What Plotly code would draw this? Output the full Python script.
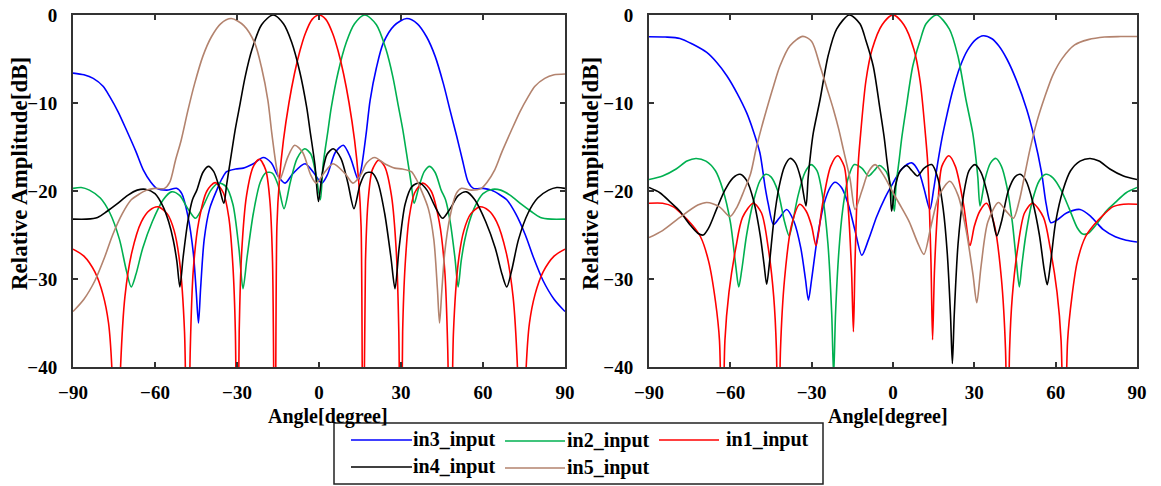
import plotly.graph_objects as go
from plotly.subplots import make_subplots

# ---- left panel: angle [deg] / relative amplitude [dB] ----
L_IN1_DEG = [-90, -86, -82, -79, -77, -75.8, -74.2, -72.6, -71, -68.5, -65, -62, -58.8, -55.5, -53, -51, -49.2,
             -48.1, -47.1, -46, -44, -41, -38, -35, -33, -31.5, -30.6, -29.9, -29.2, -28.3, -26.5, -24, -21.8,
             -19.5, -18, -17, -16.1, -15.4, -14.5, -13, -11, -9, -7, -5, -2.5, 0, 2.5, 5, 7, 9, 11, 13, 14.5,
             15.4, 16.1, 17, 18, 19.5, 21.8, 24, 26.5, 28.3, 29.2, 29.9, 30.6, 31.5, 33, 35, 38, 41, 44, 46,
             47.1, 48.1, 49.2, 51, 53, 55.5, 58.8, 62, 65, 68.5, 71, 72.6, 74.2, 75.8, 77, 79, 82, 86, 90]
L_IN1_DB = [-26.6, -27.4, -29.2, -31.8, -35, -40, -60, -40, -32, -27, -23.5, -22.2, -21.8, -22.6, -24.5, -28, -36,
            -60, -38, -29, -23.5, -20, -19.05, -20.2, -23, -28.5, -36, -60, -36, -27, -20.5, -17.2, -16.4,
            -17.6, -21, -28, -60, -24, -18.8, -14.2, -10, -6.7, -4.1, -2.1, -0.5, 0, -0.5, -2.1, -4.1, -6.7, -10,
            -14.2, -18.8, -24, -60, -28, -21, -17.6, -16.5, -17.2, -20.5, -27, -36, -60, -36, -28.5, -23,
            -20.2, -19.1, -20, -23.5, -29, -38, -60, -36, -28, -24.5, -22.6, -21.8, -22.2, -23.5, -27, -32,
            -40, -60, -40, -35, -31.8, -29.2, -27.4, -26.6]

L_IN2_DEG = [-90, -87, -84, -80, -76.5, -73, -70.5, -68.7, -67, -64.5, -61, -57, -54, -51, -48, -45.2, -42.5,
             -39.5, -36.7, -34, -31.5, -29.3, -27.8, -26.3, -24, -21.5, -19.3, -17, -15, -12.8, -10.5, -8, -5.2,
             -3, -1.2, 0.5, 1.5, 3.3, 4.5, 7, 10, 13, 16.8, 21, 24.5, 27, 29, 30.7, 32.6, 33.8, 34.8, 36.5,
             38.5, 40.5, 42.5, 44.7, 46.3, 48, 49.7, 50.9, 52, 53.3, 55, 57, 60, 63.5, 66.5, 70, 74, 77.5, 81,
             85, 90]
L_IN2_DB = [-19.7, -19.6, -19.9, -20.8, -22.5, -25.5, -29, -30.9, -29.5, -26.5, -23.5, -21, -20.1, -20.5, -22,
            -23.1, -21.8, -19.9, -19.1, -19.5, -21.5, -26.5, -31.1, -27.5, -22.5, -19, -17.9, -18, -19.3, -22,
            -19, -16.3, -15.2, -15.8, -18, -21.0, -17, -13.1, -10.5, -6.5, -3.1, -1.0, 0, -1.1, -3.9, -7.0,
            -10.3, -13.1, -16.9, -19.3, -21.4, -19.6, -17.8, -17.2, -17.9, -19.9, -21, -23.5, -27.5, -30.9,
            -28, -25.6, -23.5, -21.8, -20.3, -19.8, -19.9, -20.5, -21.5, -22.3, -23.0, -23.2, -23.2]

L_IN3_DEG = [-90, -86, -82.6, -79, -76.5, -73.5, -70.4, -67, -64.3, -61.5, -59.4, -55.7, -52.1, -50.2, -48, -46,
             -44.9, -44.1, -43.3, -42, -40, -37.4, -35.5, -33.8, -30.5, -27.7, -24, -20.4, -17.5, -15, -12.4,
             -9.5, -5.1, -2, 1, 3, 6, 8.9, 11.5, 14.4, 15.5, 16.5, 17.4, 18.7, 21, 23.5, 27.5, 32.1, 36, 39.4,
             42.5, 45.5, 48, 50.4, 52.5, 54.6, 56.5, 60.1, 63, 66, 68.7, 72, 75.5, 78.4, 82, 86, 90]
L_IN3_DB = [-6.6, -6.8, -7.2, -8.1, -9.3, -11.0, -13.1, -15.5, -17.6, -19.0, -19.7, -19.9, -19.7, -20.3, -22.8,
            -27, -31.5, -35, -31, -25.5, -22, -19.9, -18.6, -17.8, -17.5, -17.4, -16.9, -16.2, -16.8, -18.3,
            -19.1, -18, -16.9, -17.9, -19.1, -18.2, -15.6, -14.8, -16.2, -18.75, -17.4, -15.3, -13.1, -9.7, -6,
            -3.2, -1.2, -0.4, -1.0, -2.5, -4.7, -7.8, -10.9, -13.8, -16.5, -19.0, -19.7, -19.7, -19.9, -20.4,
            -21.0, -22.6, -25, -27.5, -30.2, -32.3, -33.7]

L_IN4_DEG = [-90, -85, -81, -77.5, -74, -70, -66.5, -63.5, -60, -57, -55, -53.3, -52, -50.9, -49.7, -48, -46.3,
             -44.7, -42.5, -40.5, -38.5, -36.5, -34.8, -33.8, -32.6, -30.7, -29, -27, -24.5, -21, -16.8, -13,
             -10, -7, -4.5, -3.3, -1.5, -0.2, 1.2, 3, 5.2, 8, 10.5, 12.8, 15, 17, 19.3, 21.5, 24, 26.3, 27.8,
             29.3, 31.5, 34, 36.7, 39.5, 42.5, 45.2, 48, 51, 54, 57, 61, 64.5, 67, 68.7, 70.5, 73, 76.5, 80, 84,
             87, 90]
L_IN4_DB = [-23.2, -23.2, -23.0, -22.3, -21.5, -20.5, -19.9, -19.8, -20.3, -21.8, -23.5, -25.6, -28, -30.9,
            -27.5, -23.5, -21, -19.9, -17.9, -17.2, -17.8, -19.6, -21.4, -19.3, -16.9, -13.1, -10.3, -7.0, -3.9,
            -1.1, 0, -1.0, -3.1, -6.5, -10.5, -13.1, -17, -21.2, -18, -15.8, -15.2, -16.3, -19, -22, -19.3, -18,
            -17.9, -19, -22.5, -27.5, -31.1, -26.5, -21.5, -19.5, -19.1, -19.9, -21.8, -23.1, -22, -20.5, -20.1,
            -21, -23.5, -26.5, -29.5, -30.9, -29, -25.5, -22.5, -20.8, -19.9, -19.6, -19.7]

L_IN5_DEG = [-90, -86, -82, -78.4, -75.5, -72, -68.7, -66, -63, -60.1, -56.5, -54.6, -52.5, -50.4, -48, -45.5,
             -42.5, -39.4, -36, -32.1, -27.5, -23.5, -21, -18.7, -17.4, -16.5, -15.5, -14.4, -11.5, -8.9, -6, -3,
             -1, 2, 5.1, 9.5, 12.4, 15, 17.5, 20.4, 24, 27.7, 30.5, 33.8, 35.5, 37.4, 40, 42, 43.3, 44.1, 44.9,
             46, 48, 50.2, 52.1, 55.7, 59.4, 61.5, 64.3, 67, 70.4, 73.5, 76.5, 79, 82.6, 86, 90]
L_IN5_DB = [-33.7, -32.3, -30.2, -27.5, -25, -22.6, -21.0, -20.4, -19.9, -19.7, -19.7, -19.0, -16.5, -14.2,
            -10.9, -7.8, -4.7, -2.5, -1.0, -0.4, -1.2, -3.2, -6, -9.7, -13.1, -15.3, -17.4, -18.75, -16.2, -14.8,
            -15.6, -18.2, -19.1, -17.9, -16.9, -18, -19.1, -18.3, -16.8, -16.2, -16.9, -17.4, -17.5, -17.8,
            -18.6, -19.9, -22, -25.5, -31, -35, -31.5, -27, -22.8, -20.3, -19.7, -19.9, -19.7, -19.0, -17.6,
            -15.5, -13.1, -11.0, -9.3, -8.1, -7.2, -6.8, -6.7]

# ---- right panel ----
R_IN1_DEG = [-90, -85, -81, -78, -74, -71, -68, -65.5, -64, -63, -62, -60.5, -58, -55.5, -51.5, -48.5, -46, -44,
             -43, -42.3, -41.5, -40, -37.5, -34.4, -32, -30, -28.4, -26, -23, -20.4, -18, -16.5, -15.3, -14.6,
             -14, -12.8, -12, -10, -7.7, -4, 0, 4, 7.7, 10, 12, 12.8, 14, 14.6, 15.3, 16.5, 18, 20.6, 23, 26,
             28.4, 30, 32, 34.5, 37.5, 40, 41.5, 42.3, 43, 44, 46, 48.5, 51.5, 55.5, 58, 60.5, 62, 63.2, 64.4,
             66, 68, 71, 74, 78, 81, 85, 90]
R_IN1_DB = [-21.4, -21.4, -21.8, -22.6, -23.9, -25.2, -28, -32.5, -37, -55, -37, -31.5, -26.5, -23, -21.4, -22.5,
            -26.5, -32, -38, -55, -38, -30, -24, -21.5, -22.3, -24, -26.2, -21.5, -17.2, -16.0, -17.2, -22, -29,
            -36, -28, -16.8, -13.7, -7.5, -3.9, -1.1, 0, -1.1, -3.9, -7.5, -13.7, -16.8, -28, -36.9, -29, -22,
            -17.2, -16.0, -17.2, -21.5, -26.2, -24, -22.3, -21.4, -24, -30, -38, -55, -38, -32, -26.5, -22.5,
            -21.4, -23, -26.5, -31.5, -37, -55, -37, -32, -28, -25.2, -23.9, -22.6, -21.8, -21.5, -21.5]

R_IN2_DEG = [-90, -85, -80, -76, -72.7, -69, -65.5, -62.8, -60, -58, -56.9, -55.8, -54, -51.5, -49, -46.9, -45,
             -42.5, -40, -38.3, -37, -35, -32.5, -30.2, -28, -26, -24, -22.6, -21.9, -21.2, -20, -18.5, -16.5,
             -14.3, -11.5, -9, -7, -5, -2.5, -0.8, 0.5, 1.1, 2.3, 3.3, 4.8, 7.3, 10, 12.2, 16.1, 20.8, 23.9,
             26.9, 29.4, 30.3, 31.3, 32.1, 34, 36, 38, 40, 42, 44, 45.5, 46.6, 47.5, 49, 51.5, 54, 56.4, 59, 62,
             65, 68, 70, 72, 75, 78.6, 82, 86, 90]
R_IN2_DB = [-18.7, -18.3, -17.5, -16.6, -16.3, -16.6, -17.7, -19.8, -23.5, -28.5, -30.9, -29, -25, -21.2, -18.8,
            -18.1, -18.4, -20, -23.5, -25.1, -23.5, -20.5, -17.9, -17.0, -17.7, -20.5, -26, -34, -41, -34, -27,
            -22, -18.5, -17.0, -17.4, -18.3, -17.7, -17.1, -17.8, -19.5, -22.3, -19.4, -16.4, -13.8, -10.7,
            -5.8, -2.9, -1.0, 0, -1.6, -4.6, -9.6, -13.4, -15.5, -18.5, -21.7, -18.6, -16.8, -16.3, -17.2,
            -19.5, -23.5, -28, -30.9, -28.5, -25, -21, -18.8, -18.1, -18.5, -19.9, -22, -24.2, -24.9, -24.8,
            -23.8, -22.3, -21.3, -20.2, -19.6]

R_IN3_DEG = [-90, -84, -78.6, -74, -68.7, -65, -61.3, -57.5, -54, -51.5, -49.1, -47.2, -46, -44.1, -42, -39.2,
             -36.5, -34, -32.3, -31.2, -30, -28, -25.5, -23, -21.4, -19, -16.5, -14, -11.5, -9, -6, -3, 0, 3.2,
             6.9, 9.5, 11.5, 13.6, 15, 16.5, 18.2, 20, 22, 24.7, 27.5, 30.5, 33.3, 36.5, 39, 42, 45.5, 49.3,
             52, 54.8, 56.5, 58.2, 60.5, 64, 69, 73, 77.6, 82, 86, 90]
R_IN3_DB = [-2.47, -2.5, -2.66, -3.3, -4.26, -5.4, -6.9, -8.9, -11.1, -13.2, -15.65, -19.5, -21.5, -23.8, -23.1,
            -22.1, -23.5, -26.5, -30, -32.4, -30, -25.5, -21.5, -19.5, -19.0, -19.6, -21.5, -24.5, -27.3, -25.5,
            -22.9, -20.8, -19.1, -17.5, -16.8, -17.8, -19.8, -22.1, -19.8, -16.8, -13.8, -11.2, -8.6, -5.9,
            -4.0, -2.8, -2.36, -2.7, -3.5, -5.0, -7.4, -10.7, -13.8, -17.9, -21.5, -23.6, -23.3, -22.5, -22.1,
            -22.9, -24.4, -25.2, -25.6, -25.8]

R_IN4_DEG = [-90, -86, -82, -78.6, -75, -72, -70, -68, -65, -62, -59, -56.4, -54, -51.5, -49, -47.5, -46.6, -45.5,
             -44, -42, -40, -38, -36, -34, -32.1, -31.3, -30.3, -29.4, -26.9, -23.9, -20.8, -16.1, -12.2, -10,
             -7.3, -4.8, -3.3, -2.3, -1.1, -0.5, 0.8, 2.5, 5, 7, 9, 11.5, 14.3, 16.5, 18.5, 20, 21.2, 21.9, 22.6,
             24, 26, 28, 30.2, 32.5, 35, 37, 38.3, 40, 42.5, 45, 46.9, 49, 51.5, 54, 55.8, 56.9, 58, 60, 62.8,
             65.5, 69, 72.7, 76, 80, 85, 90]
R_IN4_DB = [-19.6, -20.2, -21.3, -22.3, -23.8, -24.8, -25.0, -24.2, -22, -19.9, -18.5, -18.1, -18.8, -21, -25,
            -28.5, -30.6, -28, -23.5, -19.5, -17.2, -16.3, -16.8, -18.6, -21.7, -18.5, -15.5, -13.4, -9.6, -4.6,
            -1.6, 0, -1.0, -2.9, -5.8, -10.7, -13.8, -16.4, -19.4, -22.3, -19.5, -17.8, -17.1, -17.7, -18.3,
            -17.4, -17.0, -18.5, -22, -27, -34, -39.6, -34, -26, -20.5, -17.7, -17.0, -17.9, -20.5, -23.5,
            -25.1, -23.5, -20, -18.4, -18.1, -18.8, -21.2, -25, -29, -30.65, -28.5, -23.5, -19.8, -17.7, -16.6,
            -16.3, -16.6, -17.5, -18.3, -18.7]

R_IN5_DEG = [-90, -85, -78.6, -72, -68.7, -64, -60.1, -57.5, -55, -52.5, -50.5, -48.5, -46.6, -44, -41.7, -38,
             -33.3, -30, -26.9, -24.5, -22, -20, -18.3, -15.8, -14, -11.5, -9, -6.6, -3.5, 0, 3, 6, 9, 11.4, 14,
             17, 21, 24, 27, 29.5, 30.9, 32.5, 35, 38.9, 41.5, 44.4, 46.5, 48.5, 50.5, 53, 56, 59, 62.5, 67, 72,
             78, 84, 90]
R_IN5_DB = [-25.3, -24.5, -23.0, -21.6, -21.3, -21.8, -22.9, -21.8, -20, -18, -15.2, -12.8, -10.7, -8, -5.8, -3.5,
            -2.43, -3.0, -5.8, -8.2, -10.7, -13.0, -15.3, -18.7, -22.1, -20.0, -17.8, -17.0, -18.2, -20.2, -21.8,
            -23.5, -25.8, -27.2, -24, -20.5, -18.9, -20.5, -24.5, -29.5, -32.7, -28.5, -23.5, -21.3, -22.2,
            -23.1, -21.2, -18.3, -15.3, -12.2, -9.3, -6.8, -4.9, -3.4, -2.8, -2.5, -2.45, -2.45]

NAMES = ["in3_input", "in2_input", "in1_input", "in4_input", "in5_input"]
COLORS = {"in1_input": "#ff0000", "in2_input": "#00b050", "in3_input": "#0000ff",
          "in4_input": "#000000", "in5_input": "#b3836e"}

left = {"in3_input": (L_IN3_DEG, L_IN3_DB), "in2_input": (L_IN2_DEG, L_IN2_DB),
        "in1_input": (L_IN1_DEG, L_IN1_DB), "in4_input": (L_IN4_DEG, L_IN4_DB),
        "in5_input": (L_IN5_DEG, L_IN5_DB)}
right = {"in3_input": (R_IN3_DEG, R_IN3_DB), "in2_input": (R_IN2_DEG, R_IN2_DB),
         "in1_input": (R_IN1_DEG, R_IN1_DB), "in4_input": (R_IN4_DEG, R_IN4_DB),
         "in5_input": (R_IN5_DEG, R_IN5_DB)}

W, H = 1161, 486
FONT = "Liberation Serif, Times New Roman, serif"


def px(x):
    return x / W


def py(y):
    return 1 - y / H


fig = make_subplots(rows=1, cols=2)

for col, panel in ((1, left), (2, right)):
    for name in NAMES:
        xs, ys = panel[name]
        assert len(xs) == len(ys), name
        fig.add_trace(go.Scatter(x=xs, y=ys, mode="lines", name=name, showlegend=False,
                                 line=dict(color=COLORS[name], width=1.6, shape="spline", smoothing=0.8)),
                      row=1, col=col)

tickfont = dict(family=FONT, size=19, color="black", weight="bold")
xax = dict(range=[-90, 90], tickvals=[-90, -60, -30, 0, 30, 60, 90], ticks="inside", ticklen=5, tickwidth=1.5,
           tickcolor="#333", showline=True, linecolor="#333", linewidth=2, mirror="ticks", showgrid=False,
           zeroline=False, tickfont=tickfont, ticklabelstandoff=7, automargin=False)
yax = dict(range=[-40, 0], tickvals=[-40, -30, -20, -10, 0], ticks="inside", ticklen=5, tickwidth=1.5,
           tickcolor="#333", showline=True, linecolor="#333", linewidth=2, mirror="ticks", showgrid=False,
           zeroline=False, tickfont=tickfont, ticklabelstandoff=10, automargin=False)

fig.update_layout(
    xaxis=dict(xax, domain=[px(73), px(565)]),
    xaxis2=dict(xax, domain=[px(649), px(1137)]),
    yaxis=dict(yax, domain=[py(367), py(15)]),
    yaxis2=dict(yax, domain=[py(367), py(15)]),
    width=W, height=H, margin=dict(l=0, r=0, t=0, b=0, autoexpand=False),
    paper_bgcolor="white", plot_bgcolor="white", showlegend=False,
)

title_font = dict(family=FONT, size=20, color="black", weight="bold")
legend_font = dict(family=FONT, size=20, color="black", weight="bold")
ytitle_font = dict(family=FONT, size=23, color="black", weight="bold")
annotations = []
for cx in (328, 888):
    annotations.append(dict(text="Angle[degree]", x=px(cx), y=py(416), xref="paper", yref="paper",
                            showarrow=False, font=title_font, xanchor="center", yanchor="middle"))
for cx in (19, 590):
    annotations.append(dict(text="Relative Amplitude[dB]", x=px(cx), y=py(174), xref="paper", yref="paper",
                            showarrow=False, font=ytitle_font, textangle=-90, xanchor="center", yanchor="middle"))

# legend box drawn by hand: two rows, three columns
shapes = [dict(type="rect", xref="paper", yref="paper", x0=px(334), x1=px(823), y0=py(484), y1=py(423),
               line=dict(color="#222", width=1.5), fillcolor="white", layer="above")]
slots = {"in3_input": (351, 412, 440), "in2_input": (505, 565, 441), "in1_input": (659, 719, 440),
         "in4_input": (351, 412, 467), "in5_input": (505, 565, 468)}
text_x = {"in3_input": 411, "in2_input": 565, "in1_input": 724, "in4_input": 411, "in5_input": 565}
for name in NAMES:
    x0, x1, yy = slots[name]
    shapes.append(dict(type="line", xref="paper", yref="paper", x0=px(x0), x1=px(x1), y0=py(yy), y1=py(yy),
                       line=dict(color=COLORS[name], width=1.5), layer="above"))
    annotations.append(dict(text=name, x=px(text_x[name]), y=py(yy - 1), xref="paper", yref="paper",
                            showarrow=False, font=legend_font, xanchor="left", yanchor="middle"))

fig.update_layout(shapes=shapes, annotations=annotations)

# the page body has an 8px default margin; drop it so the figure sits at the window corner
fig.write_html("out.html", config={"displayModeBar": False},
               post_script="document.body.style.margin = '0px';")
